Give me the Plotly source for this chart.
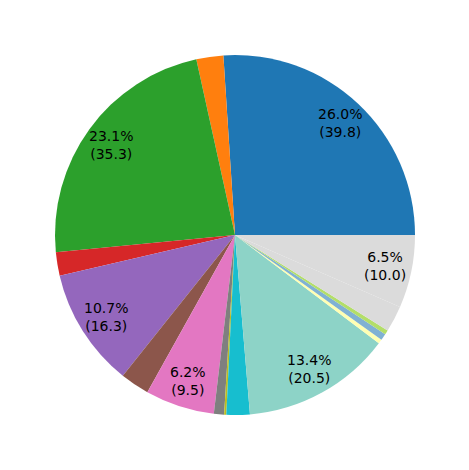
import numpy as np
import plotly.graph_objects as go

values = [39.8, 3.7, 35.3, 3.2, 16.3, 4.0, 9.5, 1.4, 0.3, 3.2,
          20.5, 0.6, 0.9, 0.6, 3.6, 10.0]
colors = ['#1f77b4', '#ff7f0e', '#2ca02c', '#d62728', '#9467bd', '#8c564b',
          '#e377c2', '#7f7f7f', '#bcbd22', '#17becf', '#8dd3c7', '#ffffb3',
          '#80b1d3', '#b3de69', '#dbdbdb', '#dbdbdb']
labels = ['s{}'.format(i) for i in range(len(values))]

vals = np.array(values)
total = vals.sum()

# plotly's counterclockwise pie puts the first slice clockwise of `rotation`,
# so shift it to make the first slice start at 3 o'clock like matplotlib
rot = 90 - 360 * vals[0] / total

fig = go.Figure(go.Pie(
    labels=labels, values=values, sort=False, direction='counterclockwise',
    rotation=rot, marker=dict(colors=colors, line=dict(width=0)),
    textinfo='none', hoverinfo='label+value+percent', showlegend=False,
))

# matplotlib-style autopct labels, only for slices above 5%
start = np.concatenate([[0], np.cumsum(vals)[:-1]])
mid = np.deg2rad((start + vals / 2) / total * 360)
for v, a in zip(vals, mid):
    pct = 100 * v / total
    if pct < 5:
        continue
    fig.add_annotation(
        x=0.5 + 0.85 * 0.5 * np.cos(a), y=0.5 + 0.85 * 0.5 * np.sin(a),
        xref='paper', yref='paper', showarrow=False,
        text='{:.1f}%<br>({:.1f})'.format(pct, v),
        font=dict(family='DejaVu Sans', size=14, color='black'),
        xanchor='center', yanchor='middle', align='center',
    )

fig.update_layout(
    width=469, height=470,
    margin=dict(l=47, r=62, t=47, b=63),
    paper_bgcolor='white', plot_bgcolor='white',
)
fig.write_html("out.html")
